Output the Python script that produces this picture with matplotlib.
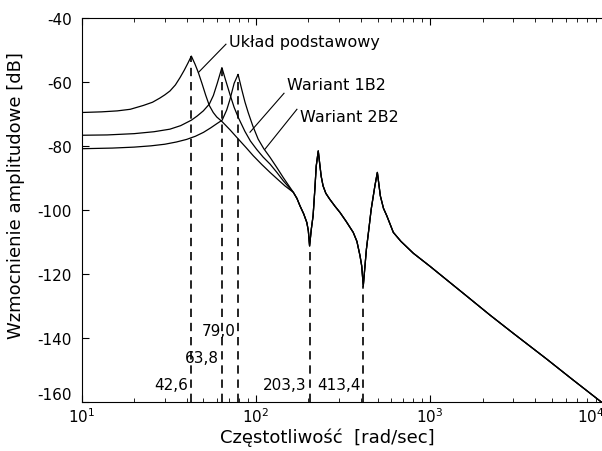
import matplotlib
matplotlib.use('Agg')
import matplotlib.pyplot as plt

plt.rcParams['font.family'] = ['DejaVu Sans']
plt.rcParams['axes.unicode_minus'] = False

# Układ podstawowy (low-frequency part, up to the common branch)
freq_a = [10, 13, 16, 19, 22.6, 25.5, 28.1, 30, 32.1, 34.5, 36.7, 38.8, 40.8, 42.6,
          44.7, 46.7, 49, 51.5, 54, 56.9, 59.6, 64.1, 71, 79.3, 88, 96.6, 108, 120.6, 133, 146.8]
db_a = [-69.6, -69.4, -69.1, -68.6, -67.4, -66.4, -65.1, -64.1, -62.9, -61.0, -58.7, -56.4, -54.1, -52.0,
        -54.5, -57.1, -60.5, -64.2, -67.4, -69.6, -71.0, -72.5, -75.0, -77.9, -80.6, -83.1, -85.8, -88.3, -90.4, -92.5]

# Wariant 1B2
freq_b = [10, 14, 20, 26, 32.1, 37, 42.6, 46, 49.9, 54, 57, 60, 63.8,
          67, 71, 75, 79.3, 86.5, 93, 101, 110, 120.6, 132, 143.6]
db_b = [-76.7, -76.6, -76.2, -75.6, -74.8, -73.7, -72.0, -70.7, -69.1, -67.0, -64.3, -60.5, -55.6,
        -59.5, -64.0, -68.0, -71.2, -75.5, -78.5, -81.1, -83.5, -85.7, -88.3, -90.9]

# Wariant 2B2
freq_c = [10, 15, 20, 25, 30, 35, 40, 45, 50, 55, 60, 64, 68, 71, 75, 79,
          83, 86.5, 90.3, 96, 103, 111, 120.6, 132, 143.6]
db_c = [-80.9, -80.7, -80.4, -80.0, -79.5, -78.8, -78.0, -77.0, -75.8, -74.4, -73.0, -72.0, -68.8, -65.5, -60.5, -57.7,
        -62.5, -66.3, -69.6, -73.8, -77.9, -80.9, -83.6, -86.8, -89.9]

# common high-frequency branch (all three curves coincide)
freq_tail = [164, 172, 179, 188, 196, 200, 203.3, 208, 213, 218, 222, 228, 232, 237, 243, 252, 265, 284,
             304, 330, 362, 380, 396, 405, 413.4, 422, 431, 445, 459, 482, 498, 518, 540, 564, 590, 615,
             680, 801, 1000, 1245, 1600, 2208, 3006, 4667, 6500, 9660, 10000]
db_tail = [-94.5, -96.4, -98.7, -101.2, -103.9, -106.5, -111.2, -106.0, -101.8, -93.5, -86.3, -81.6, -85.2, -89.5,
           -92.5, -94.8, -96.6, -98.8, -100.8, -103.6, -107.0, -109.8, -114.3, -117.5, -123.7, -118.0, -112.2,
           -106.0, -99.8, -92.5, -88.3, -95.6, -99.5, -101.8, -104.5, -107.0, -109.8, -113.5, -117.6, -121.8,
           -126.6, -132.8, -138.5, -146.5, -152.7, -160.0, -160.6]

# characteristic frequencies (dashed markers) and curve level at each
mark_freq = [42.6, 63.8, 79.0, 203.3, 413.4]
mark_top = [-52.0, -55.6, -57.7, -111.2, -123.7]
mark_text = ['42,6', '63,8', '79,0', '203,3', '413,4']
mark_text_y = [-154.5, -146.0, -137.5, -154.5, -154.5]

series_names = ['Układ podstawowy', 'Wariant 1B2', 'Wariant 2B2']
name_pos = [(70.3, -47.3), (151, -60.8), (179, -70.7)]
pointer_f = [(67.3, 46.8), (145, 92.5), (172, 112.7)]
pointer_db = [(-48.3, -57.1), (-63.6, -75.75), (-68.6, -81.05)]

x_ticks = [10, 100, 1000, 10000]
y_ticks = [-160, -140, -120, -100, -80, -60, -40]

fig = plt.figure(figsize=(6.02, 4.52), dpi=100)
ax = fig.add_axes([81.7 / 602, 48.7 / 452, 522.6 / 602, 384.7 / 452])

for f, d in [(freq_a, db_a), (freq_b, db_b), (freq_c, db_c)]:
    ax.plot(f + freq_tail, d + db_tail, color='black', linewidth=0.9)

for f, top, txt, ty in zip(mark_freq, mark_top, mark_text, mark_text_y):
    ax.plot([f, f], [-160, top], color='black', linewidth=1.2, linestyle=(0, (5, 3.5)))
    ax.annotate(txt, xy=(f, ty), xytext=(-2, 0), textcoords='offset points',
                ha='right', va='center', fontsize=11)

for name, pos, pf, pd in zip(series_names, name_pos, pointer_f, pointer_db):
    ax.plot(pf, pd, color='black', linewidth=0.8)
    ax.text(pos[0], pos[1], name, ha='left', va='center', fontsize=11.5)

ax.set_xscale('log')
ax.set_xticks(x_ticks)
ax.set_xlim(10, 10000)
ax.set_ylim(-160, -40)
ax.set_yticks(y_ticks)

ax.tick_params(which='both', direction='in', top=True, right=False, labelsize=11)
ax.tick_params(which='major', length=5)
ax.tick_params(which='minor', length=3)
ax.tick_params(axis='y', pad=7)
ax.tick_params(axis='x', pad=3)

ax.set_xlabel('Częstotliwość  [rad/sec]', fontsize=13)
ax.set_ylabel('Wzmocnienie amplitudowe [dB]', fontsize=13)
ax.xaxis.set_label_coords(0.47, -0.065)
ax.yaxis.set_label_coords(-0.108, 0.54)

# lowest y tick label sits slightly above its tick in the reference
ax.get_yticklabels()[0].set_va('bottom')
# last decade label is pushed left so it stays mostly inside the picture
ax.get_xticklabels()[-1].set_ha('right')

fig.savefig('out.png', dpi=100)
